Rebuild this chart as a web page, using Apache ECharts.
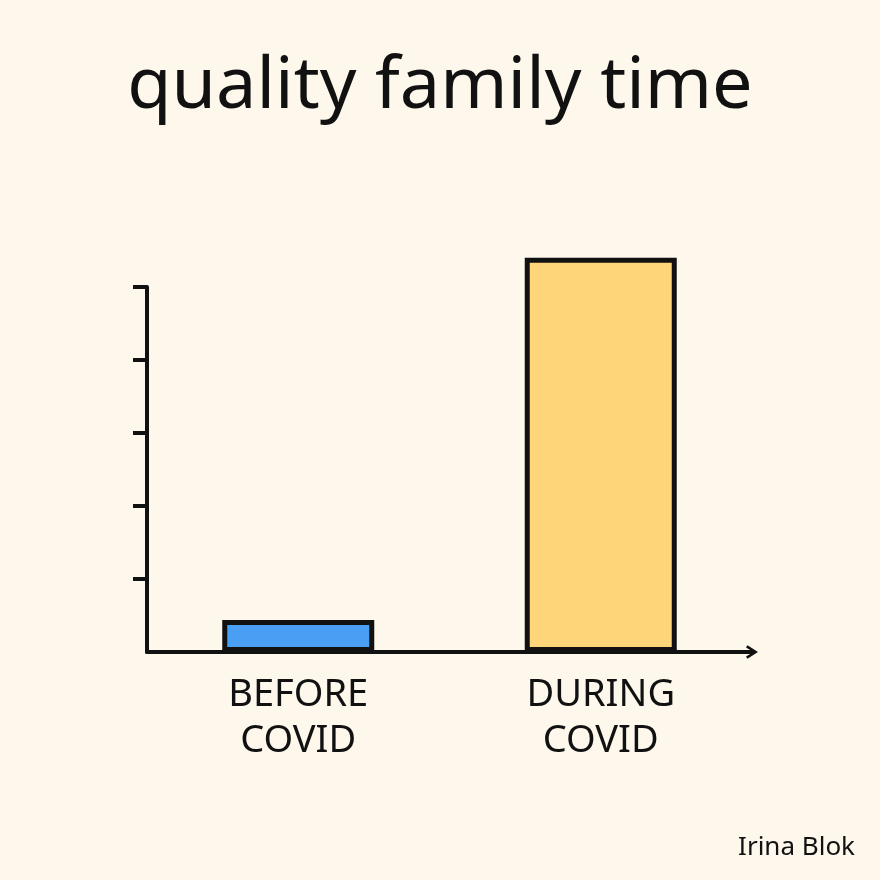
<!DOCTYPE html>
<html>
<head>
<meta charset="utf-8">
<script src="https://cdn.jsdelivr.net/npm/echarts@6/dist/echarts.min.js"></script>
<style>
  html, body { margin: 0; padding: 0; background: #fdf7ec; }
  #main { width: 880px; height: 880px; }
</style>
</head>
<body>
<div id="main"></div>
<script>
// data
const categories = ['BEFORE\nCOVID', 'DURING\nCOVID'];
const values = [0.44, 5.4];
const barColors = ['#4a9ff5', '#fed579'];
const yTicks = [1, 2, 3, 4, 5]; // no tick drawn at 0

const chart = echarts.init(document.getElementById('main'));
const ink = '#111111';

const option = {
  backgroundColor: '#fdf7ec',
  title: [{
    text: 'quality family time',
    left: 'center',
    top: 46,
    textStyle: { fontFamily: 'Noto Sans', fontSize: 72, fontWeight: 'normal', color: ink }
  }, {
    text: 'Irina Blok',
    right: 20,
    top: 830,
    textStyle: { fontFamily: 'Noto Sans', fontSize: 26, fontWeight: 'normal', color: ink }
  }],
  grid: { left: 147, right: 128, top: 287, bottom: 228 },
  xAxis: {
    type: 'category',
    data: categories,
    axisLine: {
      lineStyle: { color: ink, width: 4 },
      // open chevron pointing up (rotated along the axis by echarts)
      symbol: ['none', 'path://M0,14 L9,0 L18,14 L15,16 L9,6 L3,16 Z'],
      symbolSize: [18, 12],
      symbolOffset: [0, 0]
    },
    axisTick: { show: false },
    axisLabel: {
      margin: 20,
      color: ink,
      fontFamily: 'Noto Sans',
      fontSize: 38,
      lineHeight: 46
    }
  },
  yAxis: {
    type: 'value',
    min: 0,
    max: yTicks[yTicks.length - 1],
    interval: 1,
    axisLine: { show: true, lineStyle: { color: ink, width: 4 } },
    axisTick: { show: true, length: 14, customValues: yTicks, lineStyle: { color: ink, width: 4 } },
    axisLabel: { show: false },
    splitLine: { show: false }
  },
  series: [{
    type: 'bar',
    clip: false,
    barWidth: 152,
    data: values.map((v, i) => ({
      value: v,
      itemStyle: { color: barColors[i], borderColor: ink, borderWidth: 5 }
    }))
  }]
};

chart.setOption(option);
</script>
</body>
</html>
